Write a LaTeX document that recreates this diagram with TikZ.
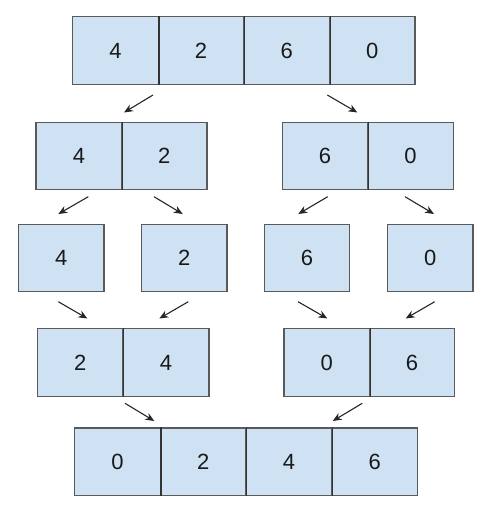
\documentclass[tikz,border=0pt]{standalone}
\usepackage{fontspec}
\setmainfont{Liberation Sans}
\usetikzlibrary{arrows.meta}
\definecolor{cellfill}{HTML}{CFE2F3}
\definecolor{cellline}{HTML}{5A5A5A}
\definecolor{divline}{HTML}{333333}
\tikzset{
  cell/.style={draw=cellline, line width=1.3pt, fill=cellfill, minimum width=85.6pt, minimum height=67.6pt, inner sep=0pt, font=\fontsize{22}{22}\selectfont, text depth=0pt, text=black!90},
  divider/.style={draw=divline, line width=1.2pt},
  flow/.style={draw=black!85, line width=1.1pt, -{Stealth[length=9pt,width=7.5pt]}}
}
\begin{document}
\begin{tikzpicture}[x=1pt,y=-1pt]
\useasboundingbox (0,0) rectangle (488,516);
% row 1
\node[cell] (a1) at (115.5,50.5) {4};
\node[cell] (a2) at (201.1,50.5) {2};
\node[cell] (a3) at (286.7,50.5) {6};
\node[cell] (a4) at (372.2,50.5) {0};
% row 2
\node[cell] (b1) at (78.9,156) {4};
\node[cell] (b2) at (164.3,156) {2};
\node[cell] (b3) at (325.1,156) {6};
\node[cell] (b4) at (410.6,156) {0};
% row 3
\node[cell] (c1) at (61.2,258) {4};
\node[cell] (c2) at (184.3,258) {2};
\node[cell] (c3) at (307,258) {6};
\node[cell] (c4) at (430.3,258) {0};
% row 4
\node[cell] (d1) at (80.2,362.5) {2};
\node[cell] (d2) at (166.1,362.5) {4};
\node[cell] (d3) at (326.7,362.5) {0};
\node[cell] (d4) at (412,362.5) {6};
% row 5
\node[cell] (e1) at (117.6,461.7) {0};
\node[cell] (e2) at (203.3,461.7) {2};
\node[cell] (e3) at (289.1,461.7) {4};
\node[cell] (e4) at (374.8,461.7) {6};
% dividers
\foreach \n in {a1,a2,a3,b1,b3,d1,d3,e1,e2,e3}
  \draw[divider] (\n.north east) -- (\n.south east);
% arrow end points
\coordinate (p1s) at (153,95);    \coordinate (p1e) at (124,112.5);
\coordinate (p2s) at (327.3,95);  \coordinate (p2e) at (357.3,112.5);
\coordinate (q1s) at (88.3,196.7); \coordinate (q1e) at (58.3,214);
\coordinate (q2s) at (154,196.7);  \coordinate (q2e) at (182.7,214);
\coordinate (q3s) at (327.7,196.7); \coordinate (q3e) at (298.3,214);
\coordinate (q4s) at (405,196.7);  \coordinate (q4e) at (434,214);
\coordinate (r1s) at (58.3,301.7); \coordinate (r1e) at (87.3,318.5);
\coordinate (r2s) at (188.3,301.7); \coordinate (r2e) at (159.3,318.5);
\coordinate (r3s) at (298,301.7);  \coordinate (r3e) at (327.3,318.5);
\coordinate (r4s) at (434.7,301.7); \coordinate (r4e) at (405.7,318.5);
\coordinate (t1s) at (125,403.3);  \coordinate (t1e) at (154.3,421);
\coordinate (t2s) at (362.3,403.3); \coordinate (t2e) at (332.7,421);
\foreach \a in {p1,p2,q1,q2,q3,q4,r1,r2,r3,r4,t1,t2}
  \draw[flow] (\a s) -- (\a e);
\end{tikzpicture}
\end{document}
